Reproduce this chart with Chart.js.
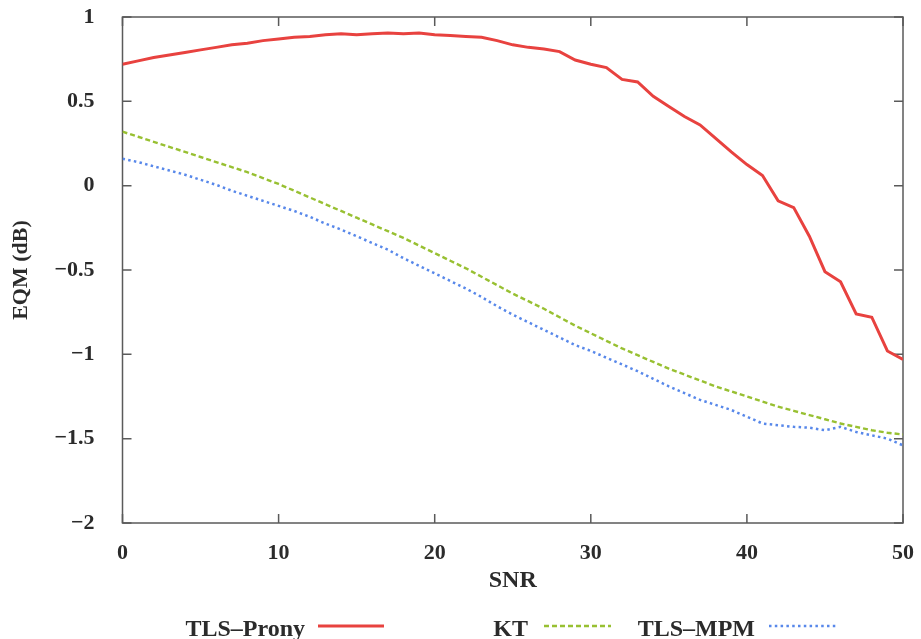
<!DOCTYPE html>
<html>
<head>
<meta charset="utf-8">
<title>EQM vs SNR</title>
<script src="https://cdn.jsdelivr.net/npm/chart.js@4.4.1/dist/chart.umd.min.js"></script>
<style>
  html, body { margin: 0; padding: 0; background: #fff; }
  #wrap { width: 921px; height: 639px; }
</style>
</head>
<body>
<div id="wrap"><canvas id="eqmChart" width="921" height="639"></canvas></div>
<script>
// 1. DATA
const snr = [0, 1, 2, 3, 4, 5, 6, 7, 8, 9, 10, 11, 12, 13, 14, 15, 16, 17, 18, 19, 20,
             21, 22, 23, 24, 25, 26, 27, 28, 29, 30, 31, 32, 33, 34, 35, 36, 37, 38, 39, 40,
             41, 42, 43, 44, 45, 46, 47, 48, 49, 50];

const tlsProny = [0.72, 0.74, 0.76, 0.775, 0.79, 0.805, 0.82, 0.835, 0.845, 0.86, 0.87,
                  0.88, 0.885, 0.895, 0.9, 0.895, 0.9, 0.905, 0.9, 0.905, 0.895,
                  0.89, 0.885, 0.88, 0.86, 0.835, 0.82, 0.81, 0.795, 0.745, 0.72,
                  0.70, 0.63, 0.615, 0.53, 0.47, 0.41, 0.36, 0.28, 0.2, 0.125,
                  0.06, -0.09, -0.13, -0.3, -0.51, -0.57, -0.76, -0.78, -0.98, -1.03];

const kt = [0.32, 0.29, 0.26, 0.23, 0.20, 0.17, 0.14, 0.11, 0.08, 0.045, 0.01,
            -0.03, -0.07, -0.11, -0.15, -0.19, -0.23, -0.27, -0.31, -0.355, -0.40,
            -0.445, -0.49, -0.54, -0.59, -0.64, -0.685, -0.73, -0.78, -0.83, -0.875,
            -0.92, -0.965, -1.005, -1.045, -1.085, -1.12, -1.155, -1.19, -1.22, -1.25,
            -1.28, -1.31, -1.335, -1.36, -1.385, -1.41, -1.43, -1.45, -1.465, -1.475];

const tlsMpm = [0.16, 0.14, 0.115, 0.09, 0.065, 0.035, 0.005, -0.03, -0.06, -0.09, -0.12,
                -0.15, -0.185, -0.225, -0.26, -0.30, -0.34, -0.38, -0.43, -0.475, -0.52,
                -0.565, -0.61, -0.66, -0.715, -0.765, -0.81, -0.855, -0.90, -0.945, -0.98,
                -1.02, -1.06, -1.10, -1.145, -1.19, -1.23, -1.27, -1.30, -1.33, -1.37,
                -1.41, -1.42, -1.43, -1.435, -1.45, -1.43, -1.46, -1.48, -1.50, -1.54];

const seriesNames = ['TLS\u2013Prony', 'KT', 'TLS\u2013MPM'];
const xTicks = [0, 10, 20, 30, 40, 50];
const yTicks = [1, 0.5, 0, -0.5, -1, -1.5, -2];

// 2. HELPERS
const FONT = '"Liberation Serif", "Times New Roman", serif';
const INK = '#2b2b2b';

function fmt(v) {
    return v < 0 ? '\u2212' + Math.abs(v) : String(v);
}

function toPoints(ys) {
    return snr.map((x, i) => ({ x: x, y: ys[i] }));
}

// gnuplot-like box with inward ticks on all four sides
const frameTicks = {
    id: 'frameTicks',
    beforeDatasetsDraw(chart) {
        const { ctx, chartArea: a, scales } = chart;
        ctx.save();
        ctx.strokeStyle = '#5a5a5a';
        ctx.lineWidth = 1.5;
        ctx.strokeRect(a.left, a.top, a.right - a.left, a.bottom - a.top);
        ctx.beginPath();
        xTicks.forEach(v => {
            const px = scales.x.getPixelForValue(v);
            ctx.moveTo(px, a.bottom); ctx.lineTo(px, a.bottom - 9);
            ctx.moveTo(px, a.top); ctx.lineTo(px, a.top + 9);
        });
        yTicks.forEach(v => {
            const py = scales.y.getPixelForValue(v);
            ctx.moveTo(a.left, py); ctx.lineTo(a.left + 9, py);
            ctx.moveTo(a.right, py); ctx.lineTo(a.right - 9, py);
        });
        ctx.stroke();
        ctx.restore();
    }
};

// legend under the plot: name first, then a line sample
const sampleLegend = {
    id: 'sampleLegend',
    afterDraw(chart, args, opts) {
        const ctx = chart.ctx;
        ctx.save();
        ctx.font = 'bold 24px ' + FONT;
        ctx.fillStyle = INK;
        ctx.textAlign = 'right';
        ctx.textBaseline = 'alphabetic';
        chart.data.datasets.forEach((ds, i) => {
            const slot = opts.slots[i];
            ctx.fillText(ds.label, slot.textRight, opts.baseline);
            ctx.beginPath();
            ctx.strokeStyle = ds.borderColor;
            ctx.lineWidth = ds.borderWidth;
            ctx.setLineDash(ds.borderDash || []);
            ctx.moveTo(slot.from, opts.lineY);
            ctx.lineTo(slot.to, opts.lineY);
            ctx.stroke();
        });
        ctx.restore();
    }
};

// 3. CHART
new Chart(document.getElementById('eqmChart'), {
    type: 'line',
    data: {
        datasets: [{
            label: seriesNames[0],
            data: toPoints(tlsProny),
            borderColor: '#e8423f',
            borderWidth: 3,
            borderDash: [],
            pointRadius: 0,
            tension: 0
        }, {
            label: seriesNames[1],
            data: toPoints(kt),
            borderColor: '#98c032',
            borderWidth: 2.4,
            borderDash: [5, 3],
            pointRadius: 0,
            tension: 0
        }, {
            label: seriesNames[2],
            data: toPoints(tlsMpm),
            borderColor: '#5888ea',
            borderWidth: 2.5,
            borderDash: [2.5, 3.3],
            pointRadius: 0,
            tension: 0
        }]
    },
    options: {
        responsive: false,
        animation: false,
        devicePixelRatio: 1,
        layout: { padding: { left: 0, top: 17, right: 18, bottom: 0 } },
        plugins: {
            legend: { display: false },
            tooltip: { enabled: false },
            sampleLegend: {
                baseline: 636,
                lineY: 626,
                slots: [
                    { textRight: 305, from: 318, to: 384 },
                    { textRight: 528, from: 544, to: 611 },
                    { textRight: 755, from: 769, to: 836 }
                ]
            }
        },
        scales: {
            x: {
                type: 'linear',
                min: 0,
                max: 50,
                grid: { display: false },
                border: { display: false },
                ticks: {
                    stepSize: 10,
                    padding: 9,
                    maxRotation: 0,
                    color: INK,
                    font: { family: FONT, size: 22, weight: 'bold' },
                    callback: fmt
                },
                title: {
                    display: true,
                    text: 'SNR',
                    color: INK,
                    font: { family: FONT, size: 24, weight: 'bold' },
                    padding: { top: 0, bottom: 44 }
                },
                afterFit(scale) {
                    scale.height = 116;
                    scale.paddingLeft = 0;
                    scale.paddingRight = 0;
                }
            },
            y: {
                type: 'linear',
                min: -2,
                max: 1,
                grid: { display: false },
                border: { display: false },
                ticks: {
                    stepSize: 0.5,
                    padding: 20,
                    color: INK,
                    font: { family: FONT, size: 22, weight: 'bold' },
                    callback: fmt
                },
                title: {
                    display: true,
                    text: 'EQM (dB)',
                    color: INK,
                    font: { family: FONT, size: 22, weight: 'bold' },
                    padding: { top: 8, bottom: 0 }
                },
                afterFit(scale) {
                    scale.width = 122.5;
                    scale.paddingTop = 0;
                    scale.paddingBottom = 0;
                }
            }
        }
    },
    plugins: [frameTicks, sampleLegend]
});
</script>
</body>
</html>
